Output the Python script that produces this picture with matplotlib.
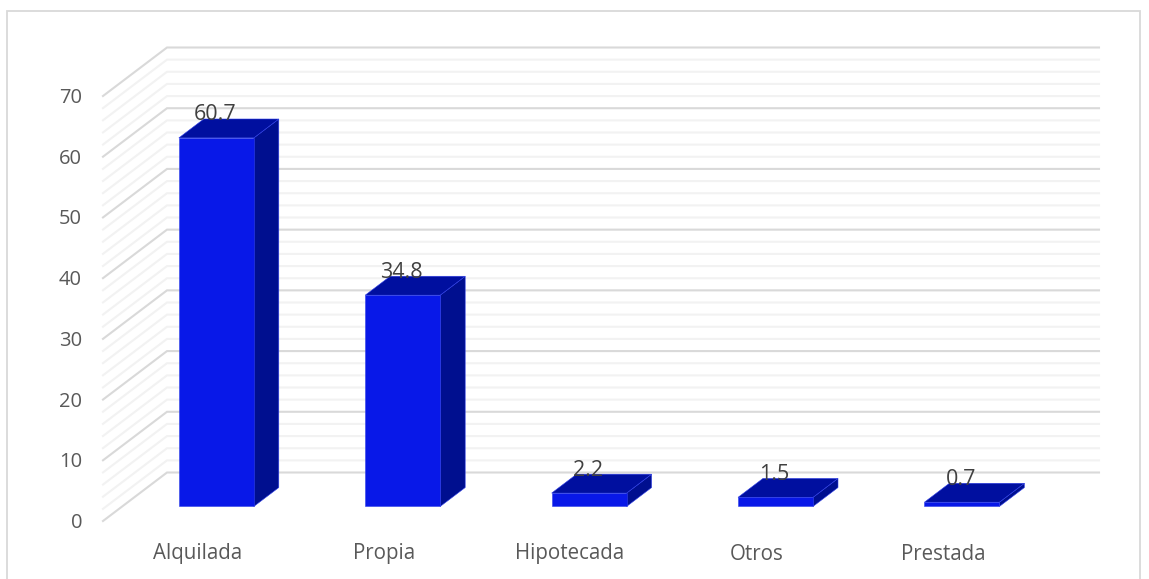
import matplotlib
matplotlib.use("Agg")
import matplotlib.pyplot as plt
from matplotlib.patches import Polygon, Rectangle

categories = ["Alquilada", "Propia", "Hipotecada", "Otros", "Prestada"]
values = [60.7, 34.8, 2.2, 1.5, 0.7]
y_ticks = [0, 10, 20, 30, 40, 50, 60, 70]

W, H = 1149, 579
plt.rcParams['font.family'] = ['Open Sans', 'DejaVu Sans']
fig = plt.figure(figsize=(W / 100, H / 100), dpi=100)
fig.add_artist(Rectangle((7 / W, -0.02), (1140 - 7) / W, (579 - 11) / H + 0.02, transform=fig.transFigure,
                         fill=False, edgecolor="#d9d9d9", linewidth=1.3))

x0, x1, ytop, ybot = 103, 1035, 96, 521
ax = fig.add_axes([x0 / W, 1 - ybot / H, (x1 - x0) / W, (ybot - ytop) / H])
ax.set_xlim(0, 5)
ax.set_ylim(0, 70)
ax.axis("off")

DX, DY = 64, 48.5


def P(x, y, d):
    """Data point (x, y) pushed d of the way back along the oblique depth axis."""
    shifted = ax.transData.transform((x, y)) + (DX * d, DY * d)
    return ax.transData.inverted().transform(shifted)


# walls
for v in range(0, 72, 2):
    major = v % 10 == 0
    pts = [P(0, v, 0), P(0, v, 1), P(5, v, 1)]
    ax.plot([p[0] for p in pts], [p[1] for p in pts],
            color="#d9d9d9" if major else "#f2f2f2", lw=1.5,
            zorder=2 if major else 1, clip_on=False, solid_joinstyle="miter")

# bars
df, db = 0.30, 0.69
w = 75 / (x1 - x0) * 5
front_c, side_c, top_c = "#0818E8", "#000F8F", "#000F9F"
edge = "#3040e8"
for i, v in enumerate(values):
    c = i + 0.505
    l, r = c - w / 2, c + w / 2
    ax.add_patch(Polygon([P(r, 0, df), P(r, 0, db), P(r, v, db), P(r, v, df)], closed=True,
                         facecolor=side_c, edgecolor=edge, lw=0.4, zorder=5, clip_on=False))
    ax.add_patch(Polygon([P(l, v, df), P(r, v, df), P(r, v, db), P(l, v, db)], closed=True,
                         facecolor=top_c, edgecolor=edge, lw=0.4, zorder=5, clip_on=False))
    ax.add_patch(Polygon([P(l, 0, df), P(r, 0, df), P(r, v, df), P(l, v, df)], closed=True,
                         facecolor=front_c, edgecolor=edge, lw=0.4, zorder=6, clip_on=False))
    ax.annotate(f"{v}", xy=P(c, v, df), xytext=(-1 * 0.72, 23 * 0.72), textcoords="offset points",
                ha="center", va="center", fontsize=15.5, color="#404040", zorder=7, annotation_clip=False)

# tick labels
for t in y_ticks:
    ax.annotate(str(t), xy=(0, t), xytext=(-21 * 0.72, -2 * 0.72), textcoords="offset points",
                ha="right", va="center", fontsize=14.5, color="#595959", annotation_clip=False)
for i, name in enumerate(categories):
    ax.annotate(name, xy=(i + 0.5, 0), xytext=(1 * 0.72, -33 * 0.72), textcoords="offset points",
                ha="center", va="center", fontsize=14.8, color="#595959", annotation_clip=False)

fig.savefig("out.png", dpi=100)
